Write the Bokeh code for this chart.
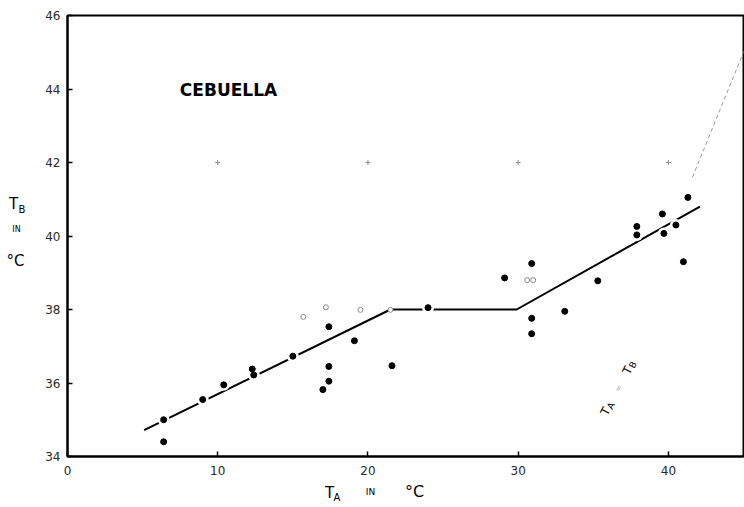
from bokeh.plotting import figure
from bokeh.models import Label, Range1d, FixedTicker
from bokeh.layouts import column, row
from bokeh.embed import file_html
from bokeh.resources import INLINE

# ---- data ----
ta_filled = [6.4, 6.4, 9.0, 10.4, 12.3, 12.4, 15.0, 17.0, 17.4, 17.4, 17.4, 19.1, 21.6,
             24.0, 29.1, 30.9, 30.9, 30.9, 33.1, 35.3, 37.9, 37.9, 39.6, 39.7, 40.5, 41.0, 41.3]
tb_filled = [35.0, 34.4, 35.55, 35.95, 36.38, 36.22, 36.73, 35.82, 37.53, 36.45, 36.05, 37.15, 36.47,
             38.05, 38.86, 39.25, 37.76, 37.34, 37.95, 38.78, 40.26, 40.03, 40.6, 40.07, 40.3, 39.3, 41.05]
ta_open = [15.7, 17.2, 19.5, 21.5, 30.6, 31.0]
tb_open = [37.8, 38.06, 37.99, 37.99, 38.8, 38.8]
fit_ta = [5.1, 21.5, 29.9, 42.1]
fit_tb = [34.72, 38.0, 38.0, 40.8]
ident = [41.6, 45.2]
marks_ta = [10, 20, 30, 40]
marks_tb = [42, 42, 42, 42]
x_ticks = [0, 10, 20, 30, 40]
y_ticks = [34, 36, 38, 40, 42, 44, 46]

FONT = "DejaVu Sans"

LEFT_W = 30
MAIN_W = 744 - LEFT_W
MAIN_H = 483
BOT_H = 507 - MAIN_H

p = figure(width=MAIN_W, height=MAIN_H, x_range=Range1d(0, 45), y_range=Range1d(34, 46),
           output_backend="svg", toolbar_location=None,
           min_border_left=37, min_border_right=1, min_border_top=15, min_border_bottom=27)
p.grid.visible = False
p.outline_line_color = "black"
p.outline_line_width = 2
p.outline_line_alpha = 1

for ax in (p.xaxis, p.yaxis):
    ax.axis_line_width = 2
    ax.axis_line_color = "black"
    ax.major_tick_in = 5
    ax.major_tick_out = 0
    ax.major_tick_line_width = 1.5
    ax.minor_tick_line_color = None
    ax.major_label_text_font = FONT
    ax.major_label_text_font_size = "12px"
    ax.major_label_text_color = "#2a2a2a"
p.xaxis.ticker = FixedTicker(ticks=x_ticks)
p.yaxis.ticker = FixedTicker(ticks=y_ticks)
p.xaxis.major_label_standoff = 9
p.yaxis.major_label_standoff = 7

# fitted broken line
p.line(fit_ta, fit_tb, line_color="black", line_width=2)
# identity line (faint)
p.line(ident, ident, line_color="#9a9a9a", line_width=1, line_dash="4 3")
# registration marks
p.scatter(marks_ta, marks_tb, marker="cross", size=5, line_color="#8a8a8a", line_width=1)
# white halos breaking the line at points
p.scatter(ta_filled, tb_filled, size=12, fill_color="white", line_color=None)
# points
p.scatter(ta_filled, tb_filled, size=6, fill_color="black", line_color="black")
p.scatter(ta_open, tb_open, size=5, fill_color="white", line_color="#8c8c8c", line_width=1)

# screen pixel -> data helpers for text placement in the main figure
def dx(px):
    return (px - 67) / (676 / 45)

def dy(py):
    return 46 - (py - 15) / (441 / 12)

def lab(fig, x, y, text, size, angle=0, color="black", bold=False):
    fig.add_layout(Label(x=x, y=y, text=text, text_font=FONT,
                         text_font_size=f"{size}px", text_align="center",
                         text_baseline="middle", angle=angle, angle_units="deg",
                         text_color=color, text_font_style="bold" if bold else "normal"))

lab(p, dx(228), dy(89), "CEBUELLA", 17, bold=True)

# rotated T_A = T_B
lab(p, dx(605), dy(411), "T", 12, angle=63)
lab(p, dx(610.5), dy(405.5), "A", 9, angle=63)
lab(p, dx(618), dy(388), "=", 8, angle=63, color="#aaaaaa")
lab(p, dx(627), dy(370), "T", 12, angle=63)
lab(p, dx(632.5), dy(364.5), "B", 9, angle=63)

# ---- left strip with the y-axis title (pixel coordinates) ----
left = figure(width=LEFT_W, height=MAIN_H, x_range=Range1d(0, LEFT_W),
              y_range=Range1d(MAIN_H, 0), output_backend="svg", toolbar_location=None,
              min_border=0)
left.axis.visible = False
left.grid.visible = False
left.outline_line_color = None
lab(left, 13, 206, "T", 15)
lab(left, 21.5, 212, "B", 10)
lab(left, 16, 234, "IN", 8)
lab(left, 15, 269, "°C", 15)

# ---- bottom strip with the x-axis title (pixel coordinates) ----
bottom = figure(width=744, height=BOT_H, x_range=Range1d(0, 744),
                y_range=Range1d(BOT_H, 0), output_backend="svg", toolbar_location=None,
                min_border=0)
bottom.axis.visible = False
bottom.grid.visible = False
bottom.outline_line_color = None
lab(bottom, 329, 492 - MAIN_H, "T", 15)
lab(bottom, 336.5, 497 - MAIN_H, "A", 10)
lab(bottom, 370, 491 - MAIN_H, "IN", 9)
lab(bottom, 414, 491 - MAIN_H, "°C", 16)

layout = column(row(left, p, spacing=0), bottom, spacing=0)
open("out.html", "w").write(file_html(layout, INLINE))
